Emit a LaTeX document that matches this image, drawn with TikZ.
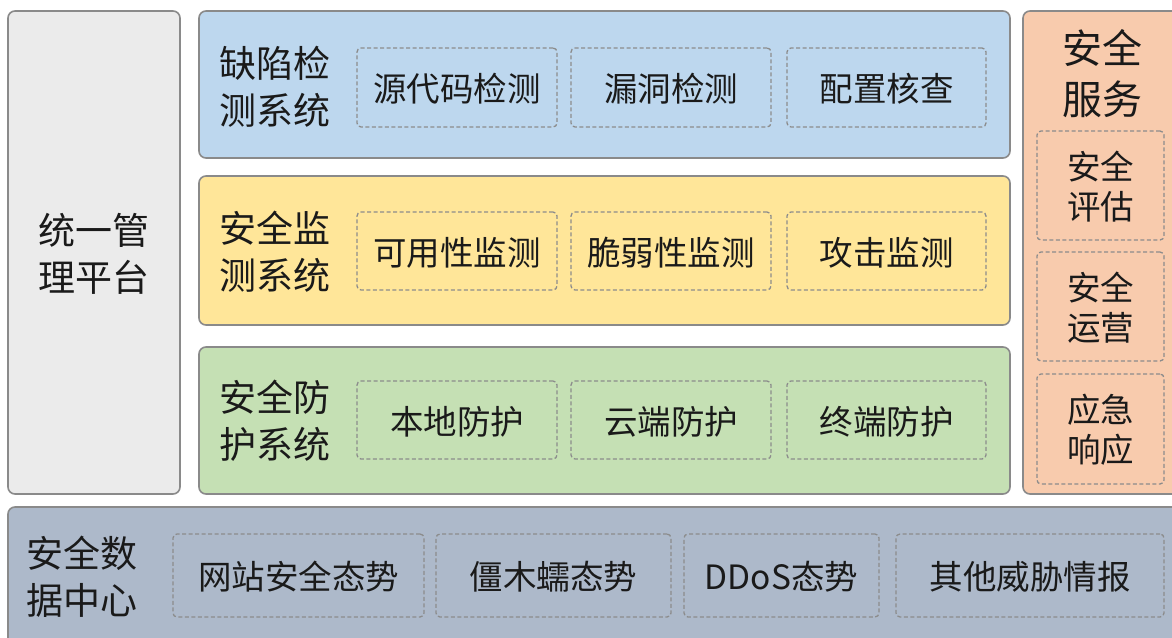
\documentclass[tikz,border=0pt]{standalone}
\usepackage{fontspec}
\setmainfont{Noto Sans CJK SC}
\definecolor{bordergray}{HTML}{8A8A8A}
\definecolor{dashgray}{HTML}{8C8C8C}
\definecolor{fgray}{HTML}{EBEBEB}
\definecolor{fblue}{HTML}{BDD7EE}
\definecolor{fyellow}{HTML}{FFE699}
\definecolor{fgreen}{HTML}{C5E0B4}
\definecolor{forange}{HTML}{F8CBAD}
\definecolor{fslate}{HTML}{ADB9CA}
\definecolor{txt}{HTML}{1A1A1A}
\tikzset{
  outer/.style={draw=bordergray, line width=1.6pt, rounded corners=7pt, inner sep=0pt},
  inner/.style={draw=dashgray, dashed, dash pattern=on 4pt off 2.5pt, line width=1.3pt, rounded corners=4pt, inner sep=0pt},
  ttl/.style={text=txt, font=\fontsize{37}{47}\selectfont, align=left, inner sep=0pt},
  lbl/.style={text=txt, font=\fontsize{33.5}{40}\selectfont, align=center},
}
\begin{document}
\begin{tikzpicture}[x=1pt,y=-1pt]
\useasboundingbox (0,0) rectangle (1172,637);
\clip (0,0) rectangle (1172,637);
\fill[white] (0,0) rectangle (1172,637);
% outer boxes
\node[outer, fill=fgray, minimum width=172pt, minimum height=483pt] (mgmt) at (94,252.5) {};
\node[outer, fill=fblue, minimum width=811pt, minimum height=147pt] (det) at (604.5,84.5) {};
\node[outer, fill=fyellow, minimum width=811pt, minimum height=149pt] (mon) at (604.5,250.5) {};
\node[outer, fill=fgreen, minimum width=811pt, minimum height=147pt] (pro) at (604.5,420.5) {};
\node[outer, fill=forange, minimum width=162pt, minimum height=483pt] (srv) at (1104,252.5) {};
\node[outer, fill=fslate, minimum width=1177pt, minimum height=143pt] (dc) at (596.5,578.5) {};
% titles
\node[ttl, align=center] (mgmtT) at (94,254) {统一管\\理平台};
\node[ttl] (detT) at (275,87) {缺陷检\\测系统};
\node[ttl] (monT) at (275,252) {安全监\\测系统};
\node[ttl] (proT) at (275,421) {安全防\\护系统};
\node[ttl, align=center, font=\fontsize{40}{51}\selectfont] (srvT) at (1102,74) {安全\\服务};
\node[ttl] (dcT) at (82,577) {安全数\\据中心};
% detection row
\node[inner, minimum width=200pt, minimum height=79pt] (d1) at (457,87.5) {};
\node[inner, minimum width=200pt, minimum height=79pt] (d2) at (671,87.5) {};
\node[inner, minimum width=199pt, minimum height=79pt] (d3) at (886.5,87.5) {};
\node[lbl, yshift=-1.5pt] at (d1) {源代码检测};
\node[lbl, yshift=-1.5pt] at (d2) {漏洞检测};
\node[lbl, yshift=-1.5pt] at (d3) {配置核查};
% monitoring row
\node[inner, minimum width=200pt, minimum height=78pt] (m1) at (457,251) {};
\node[inner, minimum width=200pt, minimum height=78pt] (m2) at (671,251) {};
\node[inner, minimum width=199pt, minimum height=78pt] (m3) at (886.5,251) {};
\node[lbl, yshift=-1.5pt] at (m1) {可用性监测};
\node[lbl, yshift=-1.5pt] at (m2) {脆弱性监测};
\node[lbl, yshift=-1.5pt] at (m3) {攻击监测};
% protection row
\node[inner, minimum width=200pt, minimum height=78pt] (p1) at (457,420) {};
\node[inner, minimum width=200pt, minimum height=78pt] (p2) at (671,420) {};
\node[inner, minimum width=199pt, minimum height=78pt] (p3) at (886.5,420) {};
\node[lbl, yshift=-1.5pt] at (p1) {本地防护};
\node[lbl, yshift=-1.5pt] at (p2) {云端防护};
\node[lbl, yshift=-1.5pt] at (p3) {终端防护};
% service column
\node[inner, minimum width=127pt, minimum height=109pt] (s1) at (1100.5,185.5) {};
\node[inner, minimum width=127pt, minimum height=109pt] (s2) at (1100.5,306.5) {};
\node[inner, minimum width=127pt, minimum height=110pt] (s3) at (1100.5,429) {};
\node[lbl, inner sep=0pt, yshift=-1pt] at (s1) {安全\\评估};
\node[lbl, inner sep=0pt, yshift=-1pt] at (s2) {安全\\运营};
\node[lbl, inner sep=0pt, yshift=-1pt] at (s3) {应急\\响应};
% data center row
\node[inner, minimum width=251pt, minimum height=83pt] (c1) at (298.5,575.5) {};
\node[inner, minimum width=235pt, minimum height=83pt] (c2) at (553.5,575.5) {};
\node[inner, minimum width=195pt, minimum height=83pt] (c3) at (781.5,575.5) {};
\node[inner, minimum width=268pt, minimum height=83pt] (c4) at (1030,575.5) {};
\node[lbl, yshift=-1.5pt] at (c1) {网站安全态势};
\node[lbl, yshift=-1.5pt] at (c2) {僵木蠕态势};
\node[lbl, yshift=-1.5pt] at (c3) {DDoS态势};
\node[lbl, yshift=-1.5pt] at (c4) {其他威胁情报};
\end{tikzpicture}
\end{document}
